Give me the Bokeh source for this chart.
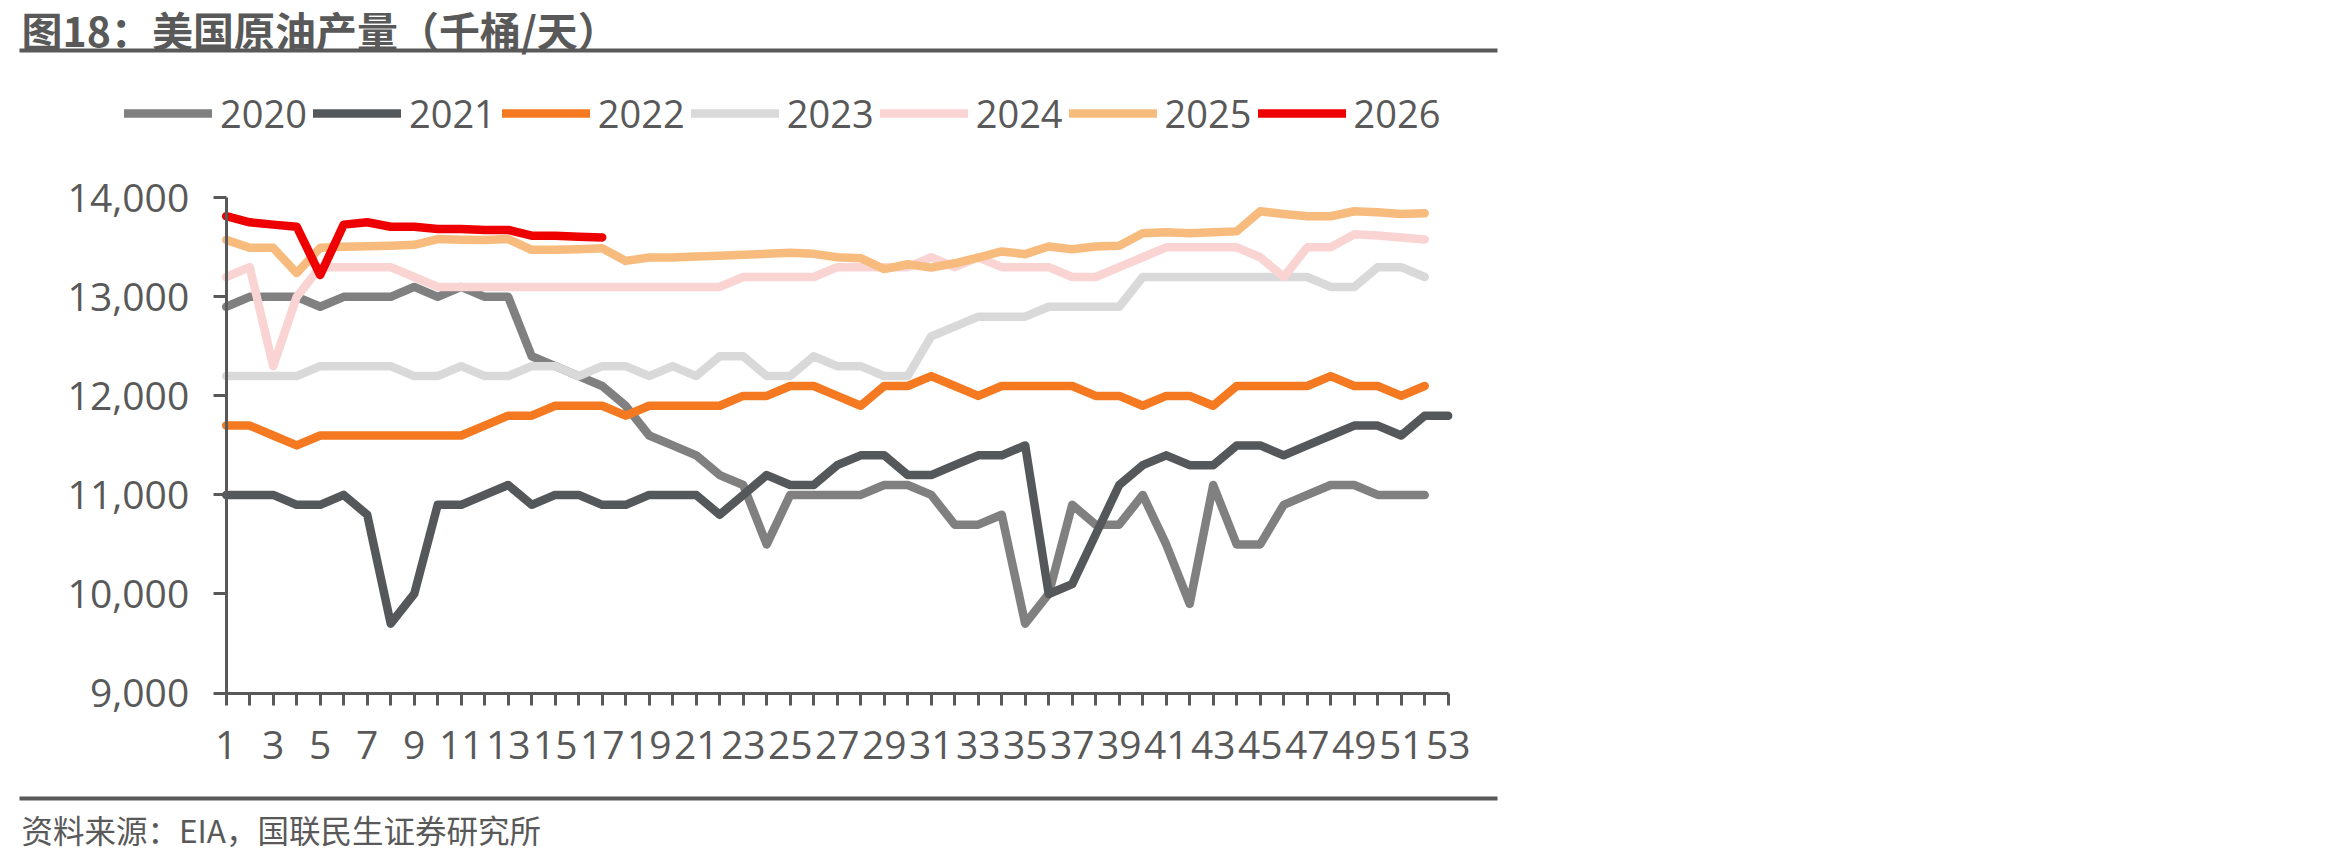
from bokeh.plotting import figure
from bokeh.models import (Range1d, FixedTicker, NumeralTickFormatter, Legend, LegendItem,
                          Label, BoxAnnotation, LinearAxis)
from bokeh.embed import file_html
from bokeh.resources import INLINE

# ---------------- data ----------------
weeks = list(range(1, 54))
week_labels = {w: (str(w) if w % 2 == 1 else "") for w in weeks}
years = ["2020", "2021", "2022", "2023", "2024", "2025", "2026"]

y2020 = [12900, 13000, 13000, 13000, 12900, 13000, 13000, 13000, 13100, 13000,
         13100, 13000, 13000, 12400, 12300, 12200, 12100, 11900, 11600, 11500,
         11400, 11200, 11100, 10500, 11000, 11000, 11000, 11000, 11100, 11100,
         11000, 10700, 10700, 10800, 9700, 10000, 10900, 10700, 10700, 11000,
         10500, 9900, 11100, 10500, 10500, 10900, 11000, 11100, 11100, 11000,
         11000, 11000]
y2021 = [11000, 11000, 11000, 10900, 10900, 11000, 10800, 9700, 10000, 10900,
         10900, 11000, 11100, 10900, 11000, 11000, 10900, 10900, 11000, 11000,
         11000, 10800, 11000, 11200, 11100, 11100, 11300, 11400, 11400, 11200,
         11200, 11300, 11400, 11400, 11500, 10000, 10100, 10600, 11100, 11300,
         11400, 11300, 11300, 11500, 11500, 11400, 11500, 11600, 11700, 11700,
         11600, 11800, 11800]
y2022 = [11700, 11700, 11600, 11500, 11600, 11600, 11600, 11600, 11600, 11600,
         11600, 11700, 11800, 11800, 11900, 11900, 11900, 11800, 11900, 11900,
         11900, 11900, 12000, 12000, 12100, 12100, 12000, 11900, 12100, 12100,
         12200, 12100, 12000, 12100, 12100, 12100, 12100, 12000, 12000, 11900,
         12000, 12000, 11900, 12100, 12100, 12100, 12100, 12200, 12100, 12100,
         12000, 12100]
y2023 = [12200, 12200, 12200, 12200, 12300, 12300, 12300, 12300, 12200, 12200,
         12300, 12200, 12200, 12300, 12300, 12200, 12300, 12300, 12200, 12300,
         12200, 12400, 12400, 12200, 12200, 12400, 12300, 12300, 12200, 12200,
         12600, 12700, 12800, 12800, 12800, 12900, 12900, 12900, 12900, 13200,
         13200, 13200, 13200, 13200, 13200, 13200, 13200, 13100, 13100, 13300,
         13300, 13200]
y2024 = [13200, 13300, 12300, 13000, 13300, 13300, 13300, 13300, 13200, 13100,
         13100, 13100, 13100, 13100, 13100, 13100, 13100, 13100, 13100, 13100,
         13100, 13100, 13200, 13200, 13200, 13200, 13300, 13300, 13300, 13300,
         13400, 13300, 13400, 13300, 13300, 13300, 13200, 13200, 13300, 13400,
         13500, 13500, 13500, 13500, 13400, 13200, 13500, 13500, 13631, 13620,
         13600, 13580]
y2025 = [13575, 13495, 13495, 13240, 13495, 13505, 13510, 13515, 13525, 13583,
         13576, 13573, 13583, 13475, 13475, 13480, 13490, 13363, 13397, 13397,
         13407, 13414, 13424, 13434, 13444, 13434, 13400, 13390, 13280, 13329,
         13295, 13339, 13397, 13458, 13431, 13508, 13481, 13508, 13515, 13641,
         13651, 13641, 13651, 13661, 13864, 13837, 13814, 13814, 13864, 13854,
         13837, 13844]
y2026 = [13814, 13753, 13729, 13708, 13220, 13729, 13753, 13708, 13708, 13685,
         13685, 13675, 13675, 13617, 13617, 13607, 13600]

series = [y2020, y2021, y2022, y2023, y2024, y2025, y2026]
colors = ["#808080", "#54585A", "#F47920", "#D9D9D9", "#F9D4D3", "#F8BB7E", "#EE0000"]
y_ticks = [9000, 10000, 11000, 12000, 13000, 14000]

title_text = "图18：美国原油产量（千桶/天）"
source_text = "资料来源：EIA，国联民生证券研究所"

# ---------------- layout (canvas pixels, origin top-left) ----------------
W_PAGE, H_PAGE = 2328, 859
PX_X_FIRST, PX_X_LAST = 225.7, 1447.7   # canvas x of week 1 and week 53
PX_Y_TOP, PX_Y_BOT = 197.3, 692.5       # canvas y of 14,000 and 9,000
GRAY = "#595959"

sx = (PX_X_LAST - PX_X_FIRST) / (weeks[-1] - weeks[0])
sy = (PX_Y_BOT - PX_Y_TOP) / (y_ticks[-1] - y_ticks[0])
x_start = weeks[0] - PX_X_FIRST / sx
x_end = x_start + W_PAGE / sx
y_end = y_ticks[-1] + PX_Y_TOP / sy
y_start = y_ticks[0] - (H_PAGE - PX_Y_BOT) / sy

p = figure(width=W_PAGE, height=H_PAGE, output_backend="svg", toolbar_location=None,
           x_range=Range1d(x_start, x_end), y_range=Range1d(y_start, y_end),
           x_axis_location=None, y_axis_location=None,
           min_border=0, background_fill_color="white", border_fill_color="white")
p.outline_line_color = None
p.xgrid.visible = False
p.ygrid.visible = False
p.title.visible = False


def fy(cy):
    # canvas y (top-down) -> screen y (bottom-up) used by annotations
    return H_PAGE - cy


renderers = []
for yr, ys, c in zip(years, series, colors):
    r = p.line(weeks[:len(ys)], ys, line_color=c, line_width=8.5,
               line_cap="round", line_join="round")
    renderers.append(r)

# axes, fixed at the data origin and bounded to the data extent
xaxis = LinearAxis(fixed_location=y_ticks[0], bounds=(weeks[0], weeks[-1]),
                   ticker=FixedTicker(ticks=weeks))
xaxis.major_label_overrides = week_labels
xaxis.major_tick_out = 12
xaxis.major_label_standoff = 26

yaxis = LinearAxis(fixed_location=weeks[0], bounds=(y_ticks[0], y_ticks[-1]),
                   ticker=FixedTicker(ticks=y_ticks),
                   formatter=NumeralTickFormatter(format="0,0"))
yaxis.major_tick_out = 13
yaxis.major_label_standoff = 24

for ax in (xaxis, yaxis):
    ax.axis_line_color = GRAY
    ax.axis_line_width = 3
    ax.major_tick_line_color = GRAY
    ax.major_tick_line_width = 3
    ax.major_tick_in = 0
    ax.minor_tick_out = 0
    ax.minor_tick_in = 0
    ax.major_label_text_color = GRAY
    ax.major_label_text_font = "Open Sans"
    ax.major_label_text_font_size = "39px"

p.add_layout(xaxis, "below")
p.add_layout(yaxis, "left")

# legend
legend = Legend(items=[LegendItem(label=yr, renderers=[r]) for yr, r in zip(years, renderers)],
                orientation="horizontal", location=(124, fy(139)),
                glyph_width=88, glyph_height=40, label_standoff=8, spacing=6,
                padding=0, margin=0, border_line_alpha=0, background_fill_alpha=0,
                label_text_font="Open Sans", label_text_font_size="38px",
                label_text_color=GRAY)
p.add_layout(legend)

# title, rules, source
p.add_layout(Label(x=21, y=fy(28), x_units="screen", y_units="screen", text=title_text,
                   text_font="Noto Sans CJK SC", text_font_style="bold",
                   text_font_size="41px", text_color=GRAY,
                   text_align="left", text_baseline="middle"))
p.add_layout(BoxAnnotation(left=19, right=1497, top=fy(48), bottom=fy(52),
                           left_units="screen", right_units="screen",
                           top_units="screen", bottom_units="screen",
                           fill_color=GRAY, fill_alpha=1, line_alpha=0))
p.add_layout(BoxAnnotation(left=19, right=1497, top=fy(796), bottom=fy(800),
                           left_units="screen", right_units="screen",
                           top_units="screen", bottom_units="screen",
                           fill_color=GRAY, fill_alpha=1, line_alpha=0))
p.add_layout(Label(x=21, y=fy(828), x_units="screen", y_units="screen", text=source_text,
                   text_font="Noto Sans CJK SC",
                   text_font_size="31.5px", text_color=GRAY,
                   text_align="left", text_baseline="middle"))

open("out.html", "w").write(file_html(p, INLINE))
